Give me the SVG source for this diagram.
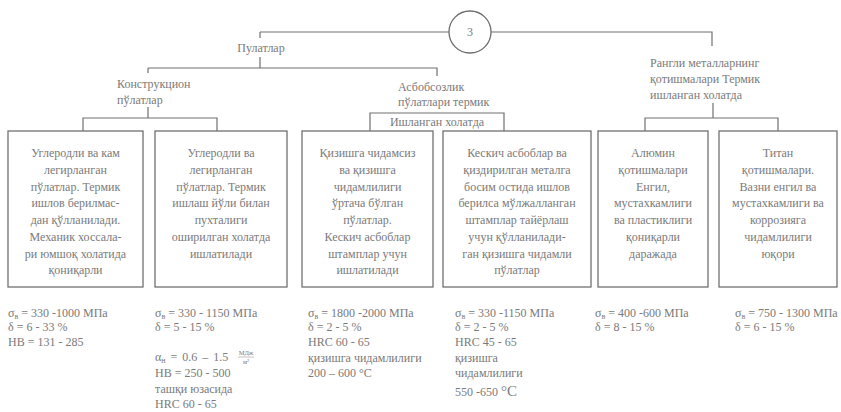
<svg xmlns="http://www.w3.org/2000/svg" width="841" height="412" viewBox="0 0 841 412">
  <style>
    text { font-family: "Liberation Serif", "DejaVu Serif", serif; font-size: 12px; fill: #7a7a7a; }
    .c { text-anchor: middle; }
    .box { fill: none; stroke: #707070; stroke-width: 1.3; }
    .wire { fill: none; stroke: #707070; stroke-width: 1.2; }
    .sub { font-size: 8px; }
    .frac { font-size: 6.5px; }
  </style>
  <rect width="841" height="412" fill="#ffffff"/>

  <!-- connectors -->
  <g id="connectors">
    <path class="wire" d="M260,32 H449"/>
    <path class="wire" d="M491,32 H712 V46"/>
    <path class="wire" d="M260,32 V38"/>
    <path class="wire" d="M260,57 V68"/>
    <path class="wire" d="M148,68 H437 V76"/>
    <path class="wire" d="M148,68 V73"/>
    <path class="wire" d="M148,107 V118"/>
    <path class="wire" d="M83,131 V118 H217 V131"/>
    <path class="wire" d="M370,131 V113 H504 V131"/>
    <path class="wire" d="M713,103 V118"/>
    <path class="wire" d="M645,131 V118 H778 V131"/>
  </g>

  <!-- root -->
  <g id="root">
    <circle cx="470" cy="32" r="21" fill="#ffffff" stroke="#6c6c6c" stroke-width="1.3"/>
    <text class="c" x="470" y="36">3</text>
  </g>

  <g id="steels">
    <text class="c" x="261" y="52">Пулатлар</text>
  </g>

  <!-- second level -->
  <g id="structural">
    <text x="117" y="88">Конструкцион</text>
    <text x="117" y="104">пўлатлар</text>
  </g>
  <g id="tool">
    <text x="398" y="91">Асбобсозлик</text>
    <text x="398" y="106">пўлатлари термик</text>
    <text class="c" x="437" y="126" font-size="11">Ишланган холатда</text>
  </g>
  <g id="nonferrous">
    <text x="650" y="67">Рангли металларнинг</text>
    <text x="650" y="83">қотишмалари Термик</text>
    <text x="650" y="99">ишланган холатда</text>
  </g>

  <!-- leaf boxes -->
  <g id="box1">
    <rect class="box" x="8" y="131" width="135" height="156"/>
    <text class="c" x="75.5" y="157">Углеродли ва кам</text>
    <text class="c" x="75.5" y="174">легирланган</text>
    <text class="c" x="75.5" y="190.5">пўлатлар. Термик</text>
    <text class="c" x="75.5" y="207">ишлов берилмас-</text>
    <text class="c" x="75.5" y="224">дан қўлланилади.</text>
    <text class="c" x="75.5" y="241">Механик хоссала-</text>
    <text class="c" x="75.5" y="257.5">ри юмшоқ холатида</text>
    <text class="c" x="75.5" y="274">қониқарли</text>
  </g>
  <g id="box2">
    <rect class="box" x="155" y="131" width="132" height="156"/>
    <text class="c" x="221" y="157">Углеродли ва</text>
    <text class="c" x="221" y="174">легирланган</text>
    <text class="c" x="221" y="190.5">пўлатлар. Термик</text>
    <text class="c" x="221" y="207">ишлаш йўли билан</text>
    <text class="c" x="221" y="224">пухталиги</text>
    <text class="c" x="221" y="241">оширилган холатда</text>
    <text class="c" x="221" y="257.5">ишлатилади</text>
  </g>
  <g id="box3">
    <rect class="box" x="302" y="131" width="131" height="156"/>
    <text class="c" x="367.5" y="157">Қизишга чидамсиз</text>
    <text class="c" x="367.5" y="174">ва қизишга</text>
    <text class="c" x="367.5" y="190.5">чидамлилиги</text>
    <text class="c" x="367.5" y="207">ўртача бўлган</text>
    <text class="c" x="367.5" y="224">пўлатлар.</text>
    <text class="c" x="367.5" y="241">Кескич асбоблар</text>
    <text class="c" x="367.5" y="257.5">штамплар учун</text>
    <text class="c" x="367.5" y="274">ишлатилади</text>
  </g>
  <g id="box4">
    <rect class="box" x="443" y="131" width="148" height="156"/>
    <text class="c" x="517" y="157">Кескич асбоблар ва</text>
    <text class="c" x="517" y="174">қиздирилган металга</text>
    <text class="c" x="517" y="190.5">босим остида ишлов</text>
    <text class="c" x="517" y="207">берилса мўлжалланган</text>
    <text class="c" x="517" y="224">штамплар тайёрлаш</text>
    <text class="c" x="517" y="241">учун қўлланилади-</text>
    <text class="c" x="517" y="257.5">ган қизишга чидамли</text>
    <text class="c" x="517" y="274">пўлатлар</text>
  </g>
  <g id="box5">
    <rect class="box" x="598" y="131" width="110" height="156"/>
    <text class="c" x="653" y="157">Алюмин</text>
    <text class="c" x="653" y="174">қотишмалари</text>
    <text class="c" x="653" y="190.5">Енгил,</text>
    <text class="c" x="653" y="207">мустахкамлиги</text>
    <text class="c" x="653" y="224">ва пластиклиги</text>
    <text class="c" x="653" y="241">қониқарли</text>
    <text class="c" x="653" y="257.5">даражада</text>
  </g>
  <g id="box6">
    <rect class="box" x="719" y="131" width="118" height="156"/>
    <text class="c" x="778" y="157">Титан</text>
    <text class="c" x="778" y="174">қотишмалари.</text>
    <text class="c" x="778" y="190.5">Вазни енгил ва</text>
    <text class="c" x="778" y="207">мустахкамлиги ва</text>
    <text class="c" x="778" y="224">коррозияга</text>
    <text class="c" x="778" y="241">чидамлилиги</text>
    <text class="c" x="778" y="257.5">юқори</text>
  </g>

  <!-- property lists -->
  <g id="props1">
    <text x="8" y="317">σ<tspan class="sub" dy="2">в</tspan><tspan dy="-2"> = 330 -1000 МПа</tspan></text>
    <text x="8" y="331">δ = 6 - 33 %</text>
    <text x="8" y="346">НВ = 131 - 285</text>
  </g>
  <g id="props2">
    <text x="155" y="317">σ<tspan class="sub" dy="2">в</tspan><tspan dy="-2"> = 330 - 1150 МПа</tspan></text>
    <text x="155" y="331">δ = 5 - 15 %</text>
    <text x="155" y="361" font-size="13" word-spacing="2">α<tspan class="sub" dy="2">н</tspan><tspan dy="-2"> = 0.6 – 1.5</tspan></text>
    <text class="frac c" x="246" y="355">МДж</text>
    <line x1="238" y1="357" x2="254" y2="357" stroke="#9a9a9a" stroke-width="0.6"/>
    <text class="frac c" x="246" y="364">м²</text>
    <text x="155" y="377">НВ = 250 - 500</text>
    <text x="155" y="393">ташқи юзасида</text>
    <text x="155" y="408">HRC 60 - 65</text>
  </g>
  <g id="props3">
    <text x="308" y="317">σ<tspan class="sub" dy="2">в</tspan><tspan dy="-2"> = 1800 -2000 МПа</tspan></text>
    <text x="308" y="331">δ = 2 - 5 %</text>
    <text x="308" y="346">HRC 60 - 65</text>
    <text x="308" y="362">қизишга чидамлилиги</text>
    <text x="308" y="377">200 – 600 °С</text>
  </g>
  <g id="props4">
    <text x="455" y="317">σ<tspan class="sub" dy="2">в</tspan><tspan dy="-2"> = 330 -1150 МПа</tspan></text>
    <text x="455" y="331">δ = 2 - 5 %</text>
    <text x="455" y="346">HRC 45 - 65</text>
    <text x="455" y="362">қизишга</text>
    <text x="455" y="377">чидамлилиги</text>
    <text x="455" y="396">550 -650 <tspan font-size="15">°C</tspan></text>
  </g>
  <g id="props5">
    <text x="595" y="317">σ<tspan class="sub" dy="2">в</tspan><tspan dy="-2"> = 400 -600 МПа</tspan></text>
    <text x="595" y="331">δ = 8 - 15 %</text>
  </g>
  <g id="props6">
    <text x="735" y="317">σ<tspan class="sub" dy="2">в</tspan><tspan dy="-2"> = 750 - 1300 МПа</tspan></text>
    <text x="735" y="331">δ = 6 - 15 %</text>
  </g>
</svg>
